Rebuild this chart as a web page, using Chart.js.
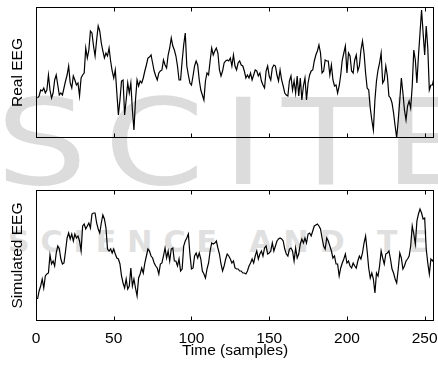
<!DOCTYPE html>
<html>
<head>
<meta charset="utf-8">
<script src="https://cdn.jsdelivr.net/npm/chart.js@4.4.1/dist/chart.umd.min.js"></script>
<style>
html,body{margin:0;padding:0;background:#fff;}
#wrap{position:relative;width:438px;height:369px;overflow:hidden;background:#fff;}
canvas{position:absolute;left:0;top:0;}
.wm{position:absolute;color:#dcdcdc;font-family:'DejaVu Sans';white-space:nowrap;line-height:1;}
.big{top:83px;font-size:120px;transform:scaleX(1.2);transform-origin:left top;}
</style>
</head>
<body>
<div id="wrap">
  <div class="wm big" style="left:-4px;">S</div>
  <div class="wm big" style="left:104px;">C</div>
  <div class="wm big" style="left:222px;">I</div>
  <div class="wm big" style="left:282px;">T</div>
  <div class="wm big" style="left:384px;">E</div>
  <div class="wm" style="left:8px;top:227px;font-size:30px;letter-spacing:11px;font-weight:bold;color:#e0e0e0;">SCIENCE AND TECHNOLOGY</div>
  <canvas id="c1" width="438" height="369"></canvas>
  <canvas id="c2" width="438" height="369"></canvas>
</div>
<script>
// Sample indices (x categories)
const samples = Array.from({length: 256}, (_, i) => i + 1);
const xTickValues = [0, 50, 100, 150, 200, 250];
const xTickLabels = ['0', '50', '100', '150', '200', '250'];

// Real EEG (arbitrary units)
const realEEG = [
  40,42,48,47,50,45,48,63,48,40,
  45,58,63,53,43,45,43,50,57,63,
  72,55,50,62,58,53,55,42,60,63,
  65,90,80,88,107,105,92,82,98,112,
  107,95,87,80,85,82,90,77,67,60,
  68,45,23,38,57,58,23,38,55,45,
  55,28,8,38,58,52,57,55,60,67,
  73,80,81,
  83,75,67,62,58,65,67,68,78,73,
  70,83,90,100,92,88,82,72,58,58,
  77,93,105,72,63,55,53,62,72,77,
  73,58,48,43,38,57,65,63,77,90,
  83,87,90,85,68,62,67,75,77,78,
  77,80,72,83,72,68,75,77,73,72,
  67,60,63,60,65,58,63,68,67,62,
  65,57,53,50,67,72,62,58,70,73,
  72,63,57,68,58,52,45,43,42,57,
  62,48,57,45,62,42,60,38,52,60,
  38,55,63,67,68,77,83,87,93,85,
  65,67,78,77,77,63,73,58,52,53,
  45,52,63,78,85,92,65,85,82,67,
  65,78,83,67,72,88,97,85,65,50,
  48,30,18,8,38,57,68,75,85,55,
  58,72,62,42,40,35,25,12,0,18,
  38,60,45,28,18,32,37,30,52,88,
  78,55,82,105,128,105,83,112,90,48,
  53,53,60
];

// Simulated EEG
const simulatedEEG = [
  22,30,35,42,33,45,47,48,66,57,
  60,55,68,75,72,62,57,58,70,83,
  88,82,87,80,87,83,85,80,70,95,
  97,92,95,98,93,107,108,108,98,92,
  88,98,106,102,93,72,70,72,68,72,
  67,63,62,57,45,38,33,42,32,35,
  53,35,42,33,25,43,47,53,48,58,
  65,72,70,
  65,63,58,55,53,47,57,58,65,73,
  63,70,60,72,73,60,60,55,62,50,
  52,75,80,83,87,67,52,53,65,68,
  63,68,62,50,47,43,52,58,70,78,
  77,78,80,73,67,57,50,55,62,67,
  65,62,58,60,53,52,52,50,50,48,
  48,47,50,55,58,62,58,65,70,62,
  67,70,65,73,75,67,68,70,78,70,
  75,80,82,83,82,80,72,67,65,72,
  73,70,60,73,63,67,77,82,78,83,
  78,87,88,85,90,95,96,97,95,92,
  83,75,72,83,80,75,70,63,65,57,
  57,45,53,58,62,67,58,60,55,53,
  58,55,53,60,65,62,68,78,85,70,
  53,43,48,42,28,48,45,55,70,63,
  57,67,68,70,62,52,48,42,38,52,
  68,63,52,55,60,62,65,75,95,87,
  77,100,107,112,108,102,103,72,58,47,
  62,60,63
];

const FONT = "'Liberation Sans', Arial, Helvetica, sans-serif";
Chart.defaults.font.family = FONT;
Chart.defaults.font.size = 15.5;
Chart.defaults.color = '#000';

const boxPlugin = {
  id: 'boxTicks',
  afterDatasetsDraw(chart) {
    const ctx = chart.ctx, a = chart.chartArea, x = chart.scales.x;
    ctx.save();
    ctx.strokeStyle = '#000';
    ctx.lineWidth = 1;
    const l = Math.round(a.left) + 0.5, t = Math.round(a.top) + 0.5;
    const r = Math.round(a.right) - 0.5, b = Math.round(a.bottom) - 0.5;
    ctx.strokeRect(l, t, r - l, b - t);
    ctx.beginPath();
    xTickValues.forEach(v => {
      const px = Math.round(x.getPixelForValue(v)) + 0.5;
      ctx.moveTo(px, b); ctx.lineTo(px, b - 4);
      ctx.moveTo(px, t); ctx.lineTo(px, t + 4);
    });
    ctx.stroke();
    ctx.restore();
  }
};

function makeChart(id, values, yTitle, showX, padding) {
  return new Chart(document.getElementById(id), {
    type: 'line',
    data: {
      labels: samples,
      datasets: [{
        data: values,
        borderColor: '#000',
        borderWidth: 1.2,
        pointRadius: 0,
        tension: 0,
        fill: false
      }]
    },
    options: {
      responsive: false,
      animation: false,
      devicePixelRatio: 1,
      layout: { padding: padding },
      plugins: { legend: { display: false }, tooltip: { enabled: false } },
      scales: {
        x: {
          type: 'linear',
          min: 0,
          max: 256,
          display: showX,
          grid: { display: false },
          border: { display: false },
          afterBuildTicks(s) { s.ticks = xTickValues.map(v => ({ value: v })); },
          ticks: {
            padding: 0,
            maxRotation: 0,
            autoSkip: false,
            callback(v) { const k = xTickValues.indexOf(v); return k >= 0 ? xTickLabels[k] : ''; }
          },
          title: { display: true, text: 'Time (samples)', padding: { top: 0, bottom: 9 } },
          afterFit(s) { if (showX) s.height = 48; }
        },
        y: {
          min: 0,
          max: 131,
          grid: { display: false },
          border: { display: false },
          ticks: { display: false },
          title: { display: true, text: yTitle, padding: { top: 8, bottom: 0 } },
          afterFit(s) { s.width = 36; }
        }
      }
    },
    plugins: [boxPlugin]
  });
}

makeChart('c1', realEEG, 'Real EEG', false, { top: 7, right: 4, bottom: 231, left: 0 });
makeChart('c2', simulatedEEG, 'Simulated EEG', true, { top: 190, right: 4, bottom: 0, left: 0 });
</script>
</body>
</html>
